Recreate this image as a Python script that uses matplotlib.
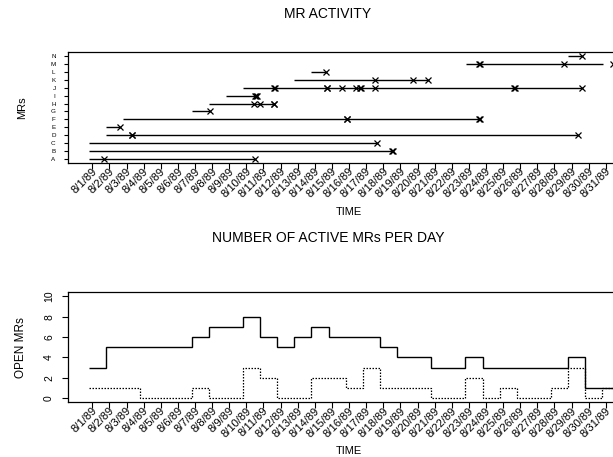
import numpy as np
import matplotlib
matplotlib.use("Agg")
import matplotlib.pyplot as plt
import matplotlib.transforms as mtransforms

plt.rcParams['font.family'] = ['Liberation Sans', 'DejaVu Sans']

# x values are day-of-month (8/1/89 = 1)
days = list(range(1, 32))
day_labels = ["8/%d/89" % d for d in days]

# top panel: one row per MR
mr_labels = ["A", "B", "C", "D", "E", "F", "G", "H", "I", "J", "K", "L", "M", "N"]
mr_open = [0.81, 0.81, 0.81, 1.78, 1.78, 2.78, 6.8, 7.8, 8.79, 9.8, 12.8, 13.79, 22.81, 28.79]
mr_close = [10.52, 18.56, 17.61, 29.39, 2.62, 23.63, 7.87, 11.61, 10.62, 29.59, 20.63, 14.65, 30.83, 29.59]
mr_events = [
    [1.67, 10.52],
    [18.52, 18.56],
    [17.61],
    [3.31, 3.34, 29.39],
    [2.62],
    [15.85, 15.88, 23.6, 23.63],
    [7.87],
    [10.46, 10.78, 11.61, 11.64],
    [10.5, 10.55, 10.6],
    [11.62, 11.65, 14.7, 14.73, 15.6, 16.4, 16.65, 16.68, 17.53, 25.64, 25.67, 29.59],
    [17.51, 19.71, 20.63],
    [14.65],
    [23.6, 23.63, 28.55, 31.4],
    [29.59],
]

# bottom panel: MRs open per day
open_all = [3, 5, 5, 5, 5, 5, 6, 7, 7, 8, 6, 5, 6, 7, 6, 6, 6, 5, 4, 4, 3, 3, 4, 3, 3, 3, 3, 3, 4, 1, 1]
open_dotted = [1, 1, 1, 0, 0, 0, 1, 0, 0, 3, 2, 0, 0, 2, 2, 1, 3, 1, 1, 1, 0, 0, 2, 0, 1, 0, 0, 1, 3, 0, 1]
count_ticks = [0, 2, 4, 6, 8, 10]

fig = plt.figure(figsize=(6.13, 4.57), dpi=100)
xlim = (-0.42, 32.82)


def date_axis(ax):
    ax.set_xticks(days)
    ax.set_xticklabels(day_labels, rotation=45, ha='right', va='center',
                       rotation_mode='anchor', fontsize=8)
    ax.tick_params(axis='x', length=4, width=0.8, pad=1)
    shift = mtransforms.ScaledTranslation(3 / 100, 0, fig.dpi_scale_trans)
    for lab in ax.get_xticklabels():
        lab.set_transform(lab.get_transform() + shift)
    for s in ax.spines.values():
        s.set_linewidth(0.9)


# ---- MR ACTIVITY ----
ax1 = fig.add_axes([68 / 613, 1 - 163 / 457, 569 / 613, 111 / 457])
rows = np.arange(1, len(mr_labels) + 1)
for r, a, b, ev in zip(rows, mr_open, mr_close, mr_events):
    ax1.plot([a, b], [r, r], color='black', lw=1.0, solid_capstyle='butt')
    ax1.plot(ev, [r] * len(ev), ls='none', marker='x', ms=5, mew=0.9, color='black', clip_on=False)
ax1.set_xlim(*xlim)
ax1.set_ylim(0.48, 14.52)
ax1.set_yticks(rows)
ax1.set_yticklabels(mr_labels, fontsize=4.5)
ax1.tick_params(axis='y', length=3, width=0.8, pad=6)
date_axis(ax1)
ax1.set_ylabel("MRs", fontsize=8, labelpad=17)
fig.text(349 / 613, 1 - 212 / 457, "TIME", ha='center', va='center', fontsize=8)
fig.text(328 / 613, 1 - 14 / 457, "MR ACTIVITY", ha='center', va='center', fontsize=10)

# ---- NUMBER OF ACTIVE MRs PER DAY ----
ax2 = fig.add_axes([68 / 613, 1 - 402.3 / 457, 569 / 613, 110.1 / 457])
edges = np.append(days, days[-1] + 1) - 0.2
ax2.stairs(open_all, edges, baseline=None, color='black', lw=1.0)
ax2.stairs(open_dotted, edges, baseline=None, color='black', lw=0.9, ls=(0, (1.2, 1.2)))
ax2.set_xlim(*xlim)
ax2.set_ylim(-0.4, 10.4)
ax2.set_yticks(count_ticks)
ax2.set_yticklabels([str(v) for v in count_ticks], rotation=90, va='center', fontsize=7.5)
ax2.tick_params(axis='y', length=4, width=0.8, pad=6)
date_axis(ax2)
ax2.set_ylabel("OPEN MRs", fontsize=8.5, labelpad=12)
fig.text(349 / 613, 1 - 451 / 457, "TIME", ha='center', va='center', fontsize=8)
fig.text(328 / 613, 1 - 238 / 457, "NUMBER OF ACTIVE MRs PER DAY", ha='center', va='center', fontsize=10)

fig.savefig("out.png", dpi=100)
